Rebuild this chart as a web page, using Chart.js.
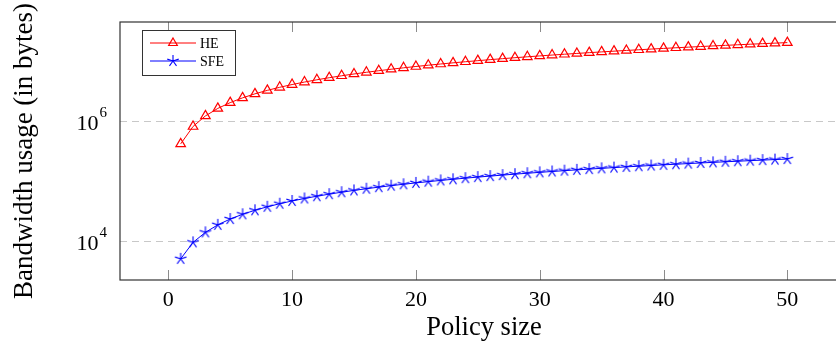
<!DOCTYPE html>
<html>
<head>
<meta charset="utf-8">
<script src="https://cdn.jsdelivr.net/npm/chart.js@4.4.1/dist/chart.umd.min.js"></script>
<style>
  html, body { margin: 0; padding: 0; background: #fff; overflow: hidden; }
  canvas { display: block; }
</style>
</head>
<body>
<canvas id="bw" width="855" height="343"></canvas>
<script>
// policy size 1..50
const policySize = [1, 2, 3, 4, 5, 6, 7, 8, 9, 10, 11, 12, 13, 14, 15, 16, 17, 18, 19, 20,
  21, 22, 23, 24, 25, 26, 27, 28, 29, 30, 31, 32, 33, 34, 35, 36, 37, 38, 39, 40,
  41, 42, 43, 44, 45, 46, 47, 48, 49, 50]

// bandwidth in bytes
const heBytes = [420000, 820000, 1230000, 1640000, 2050000, 2460000, 2870000, 3280000, 3690000, 4100000,
  4510000, 4920000, 5330000, 5740000, 6150000, 6560000, 6970000, 7380000, 7790000, 8200000,
  8610000, 9020000, 9430000, 9840000, 10250000, 10660000, 11070000, 11480000, 11890000, 12300000,
  12710000, 13120000, 13530000, 13940000, 14350000, 14760000, 15170000, 15580000, 15990000, 16400000,
  16810000, 17220000, 17630000, 18040000, 18450000, 18860000, 19270000, 19680000, 20090000, 20500000]

const sfeBytes = [5100, 9600, 14100, 18800, 23500, 28200, 32900, 37600, 42300, 47000,
  51700, 56400, 61100, 65800, 70500, 75200, 79900, 84600, 89300, 94000,
  98700, 103400, 108100, 112800, 117500, 122200, 126900, 131600, 136300, 141000,
  145700, 150400, 155100, 159800, 164500, 169200, 173900, 178600, 183300, 188000,
  192700, 197400, 202100, 206800, 211500, 216200, 220900, 225600, 230300, 235000]

const xTicks = [0, 10, 20, 30, 40, 50]
const yTickExponents = [4, 6]
const seriesNames = ['HE', 'SFE']

const serif = "'Liberation Serif', 'Times New Roman', serif"
const RED = '#ff0000'
const BLUE = '#0000ff'

// pgfplots style 5-spoke star
function starMark(color) {
  const c = document.createElement('canvas')
  c.width = 14
  c.height = 14
  const g = c.getContext('2d')
  g.strokeStyle = color
  g.lineWidth = 1.1
  g.beginPath()
  for (let k = 0; k < 5; k++) {
    const a = -Math.PI / 2 + k * 2 * Math.PI / 5
    g.moveTo(7, 7)
    g.lineTo(7 + 6 * Math.cos(a), 7 + 6 * Math.sin(a))
  }
  g.stroke()
  return c
}
const star = starMark(BLUE)

const decor = {
  id: 'decor',
  afterDraw(chart) {
    const { ctx, chartArea: a, scales: { x, y } } = chart
    ctx.save()

    // inner tick marks, top and bottom
    ctx.strokeStyle = '#8c8c8c'
    ctx.lineWidth = 1
    xTicks.forEach(v => {
      const px = Math.round(x.getPixelForValue(v)) + 0.5
      ctx.beginPath()
      ctx.moveTo(px, a.bottom)
      ctx.lineTo(px, a.bottom - 10)
      ctx.moveTo(px, a.top)
      ctx.lineTo(px, a.top + 10)
      ctx.stroke()
    })

    // frame
    ctx.strokeStyle = '#333'
    ctx.lineWidth = 1.2
    ctx.strokeRect(a.left, a.top, a.width, a.height)

    // y labels 10^n
    ctx.fillStyle = '#000'
    ctx.textAlign = 'right'
    ctx.textBaseline = 'alphabetic'
    yTickExponents.forEach(e => {
      const py = y.getPixelForValue(Math.pow(10, e))
      ctx.font = '15px ' + serif
      ctx.fillText(String(e), 107, py - 4)
      const w = ctx.measureText(String(e)).width
      ctx.font = '22px ' + serif
      ctx.fillText('10', 107 - w - 1, py + 9)
    })

    // legend box
    const lx = 142, ly = 30, lw = 93, lh = 45
    ctx.fillStyle = '#fff'
    ctx.fillRect(lx, ly, lw, lh)
    ctx.strokeStyle = '#333'
    ctx.lineWidth = 1
    ctx.strokeRect(lx + 0.5, ly + 0.5, lw, lh)
    const rows = [ly + 13, ly + 31]
    ctx.font = '14px ' + serif
    ctx.textAlign = 'left'
    ctx.textBaseline = 'middle'
    seriesNames.forEach((name, i) => {
      const ry = rows[i]
      const col = i === 0 ? RED : BLUE
      ctx.strokeStyle = col
      ctx.lineWidth = 1
      ctx.beginPath()
      ctx.moveTo(150, ry)
      ctx.lineTo(196, ry)
      ctx.stroke()
      if (i === 0) {
        const r = 5
        ctx.lineWidth = 1.2
        ctx.beginPath()
        ctx.moveTo(173, ry - r)
        ctx.lineTo(173 + r * 0.866, ry + r / 2)
        ctx.lineTo(173 - r * 0.866, ry + r / 2)
        ctx.closePath()
        ctx.stroke()
      } else {
        ctx.drawImage(star, 173 - 7, ry - 7)
      }
      ctx.fillStyle = '#000'
      ctx.fillText(name, 200, ry + 1)
    })

    ctx.restore()
  }
}

new Chart(document.getElementById('bw'), {
  type: 'line',
  data: {
    datasets: [{
      label: seriesNames[0],
      data: policySize.map((n, i) => ({ x: n, y: heBytes[i] })),
      borderColor: RED,
      borderWidth: 1,
      pointStyle: 'triangle',
      pointRadius: 5.5,
      pointBorderWidth: 1.2,
      pointBorderColor: RED,
      pointBackgroundColor: 'rgba(0,0,0,0)',
      tension: 0
    }, {
      label: seriesNames[1],
      data: policySize.map((n, i) => ({ x: n, y: sfeBytes[i] })),
      borderColor: BLUE,
      borderWidth: 1,
      pointStyle: star,
      pointRadius: 6,
      tension: 0
    }]
  },
  options: {
    responsive: false,
    animation: false,
    layout: { padding: { top: 22, left: 0, right: 0, bottom: 0 } },
    plugins: {
      legend: { display: false },
      tooltip: { enabled: false }
    },
    scales: {
      x: {
        type: 'linear',
        min: -3.9,
        max: 54.9,
        grid: { display: false, drawTicks: false },
        border: { display: false },
        afterBuildTicks: s => { s.ticks = xTicks.map(v => ({ value: v })) },
        afterFit: s => { s.height = 63 },
        ticks: {
          padding: 7,
          color: '#000',
          font: { family: serif, size: 22 },
          maxRotation: 0
        },
        title: {
          display: true,
          text: 'Policy size',
          color: '#000',
          font: { family: serif, size: 26.5, lineHeight: 1.1 },
          padding: { top: 0, bottom: 0 }
        }
      },
      y: {
        type: 'logarithmic',
        min: 2265,
        max: 45200000,
        grid: { color: '#c8c8c8', lineWidth: 1, drawTicks: false },
        border: { display: false, dash: [7, 5] },
        afterBuildTicks: s => { s.ticks = yTickExponents.map(e => ({ value: Math.pow(10, e) })) },
        afterFit: s => { s.width = 120 },
        ticks: { display: false },
        title: {
          display: true,
          text: 'Bandwidth usage (in bytes)',
          color: '#000',
          font: { family: serif, size: 27 },
          padding: { top: 9, bottom: 0 }
        }
      }
    }
  },
  plugins: [decor]
})
</script>
</body>
</html>
